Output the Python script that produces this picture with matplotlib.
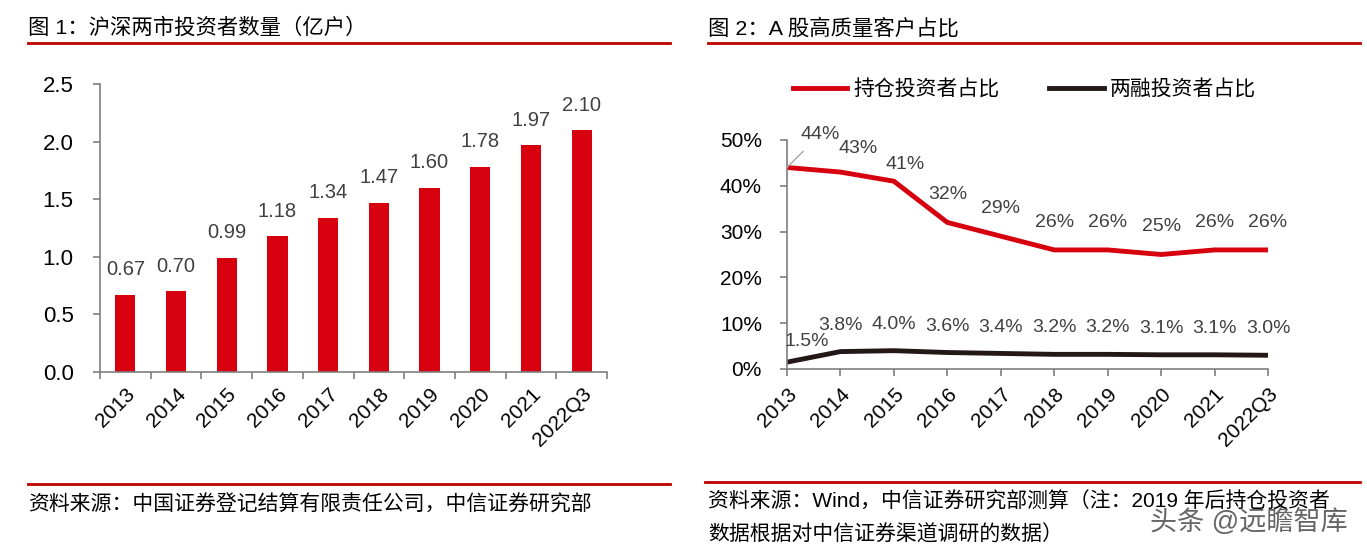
import matplotlib.pyplot as plt
import numpy as np

plt.rcParams['font.family'] = ['Liberation Sans', 'Noto Sans CJK SC']

# data
years = ['2013', '2014', '2015', '2016', '2017', '2018', '2019', '2020', '2021', '2022Q3']
investors = [0.67, 0.70, 0.99, 1.18, 1.34, 1.47, 1.60, 1.78, 1.97, 2.10]
hold_pct = [44, 43, 41, 32, 29, 26, 26, 25, 26, 26]
margin_pct = [1.5, 3.8, 4.0, 3.6, 3.4, 3.2, 3.2, 3.1, 3.1, 3.0]

red = '#d7000f'
dark = '#231815'
grey_txt = '#404040'
spine = '#7f7f7f'

fig = plt.figure(figsize=(13.67, 5.58), dpi=100)

# titles and rules
fig.text(28/1367, 1-28/558, '图 1：沪深两市投资者数量（亿户）', fontsize=15.4, va='center', ha='left')
fig.text(708/1367, 1-28/558, '图 2：A 股高质量客户占比', fontsize=15.4, va='center', ha='left')
fig.add_artist(plt.Line2D([28/1367, 670/1367], [1-43/558]*2, color='#c00000', lw=2))
fig.add_artist(plt.Line2D([708/1367, 1360/1367], [1-43/558]*2, color='#c00000', lw=2))
fig.add_artist(plt.Line2D([28/1367, 670/1367], [1-484/558]*2, color='#c00000', lw=2))
fig.add_artist(plt.Line2D([705/1367, 1360/1367], [1-482/558]*2, color='#c00000', lw=2))
fig.text(28/1367, 1-505/558, '资料来源：中国证券登记结算有限责任公司，中信证券研究部', fontsize=15, va='center')
fig.text(708/1367, 1-502/558, '资料来源：Wind，中信证券研究部测算（注：2019 年后持仓投资者', fontsize=15, va='center')
fig.text(708/1367, 1-535/558, '数据根据对中信证券渠道调研的数据）', fontsize=15, va='center')
fig.text(1150/1367, 1-522/558, '头条 @远瞻智库', fontsize=19.5, va='center', color='#333333', alpha=0.75)

# left chart: bars
ax1 = fig.add_axes([100/1367, 1-372/558, 507/1367, 288/558])
x = np.arange(len(years))
ax1.bar(x, investors, width=0.4, color=red)
for xi, v in zip(x, investors):
    ax1.annotate(f'{v:.2f}', (xi, v), xytext=(0, 18), textcoords='offset points',
                 ha='center', va='center', fontsize=14.5, color=grey_txt)
ax1.set_xlim(-0.5, len(years) - 0.5)
ax1.set_ylim(0, 2.5)
ax1.set_yticks(np.arange(0, 2.51, 0.5))
ax1.set_yticklabels([f'{t:.1f}' for t in np.arange(0, 2.51, 0.5)], fontsize=16)
ax1.set_xticks(x)
ax1.set_xticklabels(years, rotation=45, ha='right', rotation_mode='anchor', fontsize=15)
ax1.set_xticks(np.arange(-0.5, len(years)), minor=True)
ax1.tick_params(axis='x', which='major', length=0, pad=9)
ax1.tick_params(axis='x', which='minor', length=5, color=spine, width=1.2)
ax1.tick_params(axis='y', length=5, color=spine, width=1.2, pad=14)
for s in ['top', 'right']:
    ax1.spines[s].set_visible(False)
for s in ['left', 'bottom']:
    ax1.spines[s].set_color(spine)
    ax1.spines[s].set_linewidth(1.2)

# right chart: lines
ax2 = fig.add_axes([787/1367, 1-369/558, 481/1367, 229/558])
ax2.plot(x, hold_pct, color=red, lw=3.5, label='持仓投资者占比')
ax2.plot(x, margin_pct, color=dark, lw=3.5, label='两融投资者占比')
hold_off = {1: (13, 17), 2: (8, 12)}
for xi, v in zip(x, hold_pct):
    if xi == 0:
        ax2.annotate(f'{v}%', (xi, v), xytext=(24, 24), textcoords='offset points',
                     ha='center', va='center', fontsize=14, color=grey_txt,
                     arrowprops=dict(arrowstyle='-', color='#a6a6a6', lw=1, shrinkA=6, shrinkB=0))
    else:
        ax2.annotate(f'{v}%', (xi, v), xytext=hold_off.get(xi, (0, 20)), textcoords='offset points',
                     ha='center', va='center', fontsize=14, color=grey_txt)
for xi, v in zip(x, margin_pct):
    dx = 14 if xi == 0 else 0
    dy = 15 if xi == 0 else 19
    ax2.annotate(f'{v:.1f}%', (xi, v), xytext=(dx, dy), textcoords='offset points',
                 ha='center', va='center', fontsize=14, color=grey_txt)
ax2.set_xlim(0, len(years) - 1)
ax2.set_ylim(0, 50)
ax2.set_yticks(np.arange(0, 51, 10))
ax2.set_yticklabels([f'{t}%' for t in range(0, 51, 10)], fontsize=15)
ax2.set_xticks(x)
ax2.set_xticklabels(years, rotation=45, ha='right', rotation_mode='anchor', fontsize=15)
ax2.tick_params(axis='both', length=5, color=spine, width=1.2)
ax2.tick_params(axis='y', pad=13)
ax2.tick_params(axis='x', pad=6)
for s in ['top', 'right']:
    ax2.spines[s].set_visible(False)
for s in ['left', 'bottom']:
    ax2.spines[s].set_color(spine)
    ax2.spines[s].set_linewidth(1.2)
ax2.legend(loc='lower left', bbox_to_anchor=(-0.005, 1.14), ncol=2, frameon=False, fontsize=15,
           handlelength=2.6, handletextpad=0.3, columnspacing=2.4, borderaxespad=0)

fig.savefig('out.png', dpi=100)
